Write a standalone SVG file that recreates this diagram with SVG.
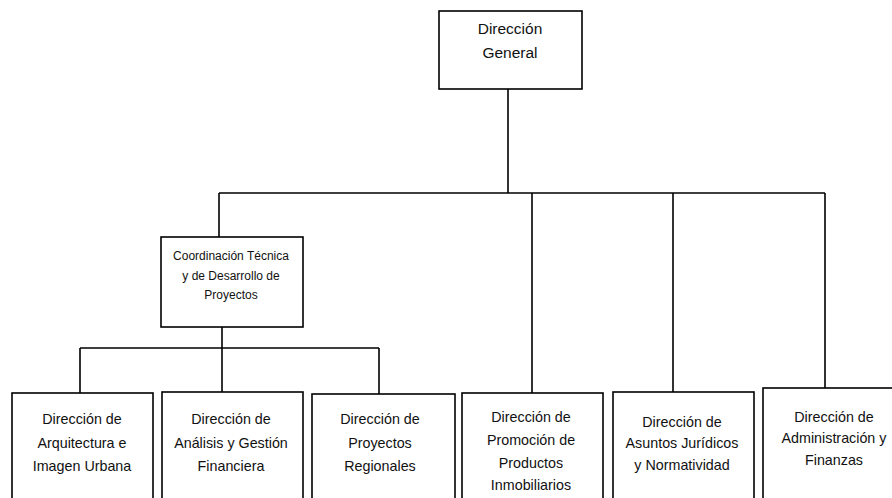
<svg xmlns="http://www.w3.org/2000/svg" width="892" height="498" viewBox="0 0 892 498">
<style>
.box{fill:#fff;stroke:#000;stroke-width:1.6}
.ln{fill:none;stroke:#000;stroke-width:1.6}
.t{font-family:"Liberation Sans",Arial,sans-serif;font-size:14.3px;fill:#111;text-anchor:middle}
.tg{font-size:15.5px}
.tc{font-size:12px}
</style>
<rect width="892" height="498" fill="#fff"/>
<g id="connectors">
<path class="ln" d="M508 89V193M219 193H825M219 193V237M532 193V393M673 193V392M825 193V388"/>
<path class="ln" d="M222 327V348M80 348H379M80 348V393M222 348V392M379 348V394"/>
</g>
<g id="n-general">
<rect class="box" x="439" y="11" width="143" height="78"/>
<text class="t tg" x="510" y="34">Dirección</text>
<text class="t tg" x="510" y="58">General</text>
</g>
<g id="n-coordinacion">
<rect class="box" x="161" y="237" width="142" height="90"/>
<text class="t tc" x="231" y="260">Coordinación Técnica</text>
<text class="t tc" x="231" y="280">y de Desarrollo de</text>
<text class="t tc" x="231" y="299">Proyectos</text>
</g>
<g id="n-arquitectura">
<rect class="box" x="12" y="393" width="141" height="115"/>
<text class="t" x="82" y="424">Dirección de</text>
<text class="t" x="82" y="448">Arquitectura e</text>
<text class="t" x="82" y="471">Imagen Urbana</text>
</g>
<g id="n-analisis">
<rect class="box" x="162" y="392" width="141" height="116"/>
<text class="t" x="231" y="424">Dirección de</text>
<text class="t" x="231" y="448">Análisis y Gestión</text>
<text class="t" x="231" y="471">Financiera</text>
</g>
<g id="n-proyectos">
<rect class="box" x="312" y="394" width="143" height="114"/>
<text class="t" x="380" y="424">Dirección de</text>
<text class="t" x="380" y="448">Proyectos</text>
<text class="t" x="380" y="471">Regionales</text>
</g>
<g id="n-promocion">
<rect class="box" x="462" y="393" width="141" height="115"/>
<text class="t" x="531" y="422">Dirección de</text>
<text class="t" x="531" y="445">Promoción de</text>
<text class="t" x="531" y="468">Productos</text>
<text class="t" x="531" y="490">Inmobiliarios</text>
</g>
<g id="n-asuntos">
<rect class="box" x="613" y="392" width="141" height="116"/>
<text class="t" x="682" y="427">Dirección de</text>
<text class="t" x="682" y="448">Asuntos Jurídicos</text>
<text class="t" x="682" y="470">y Normatividad</text>
</g>
<g id="n-administracion">
<rect class="box" x="763" y="388" width="140" height="120"/>
<text class="t" x="834" y="422">Dirección de</text>
<text class="t" x="834" y="443">Administración y</text>
<text class="t" x="834" y="465">Finanzas</text>
</g>
</svg>
